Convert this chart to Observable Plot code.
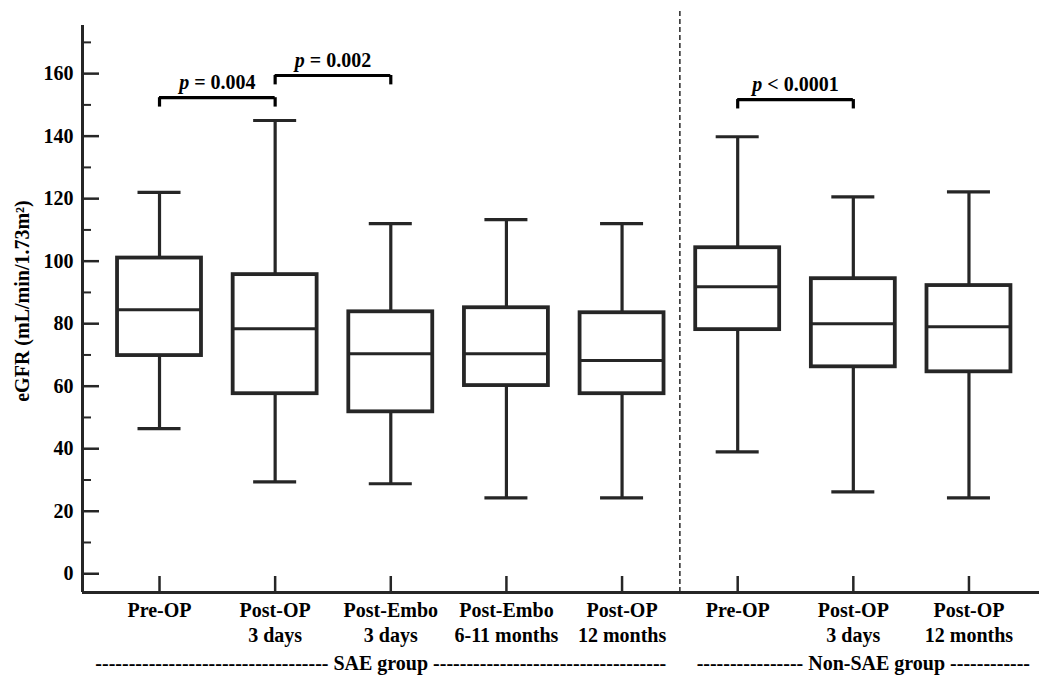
<!DOCTYPE html>
<html>
<head>
<meta charset="utf-8">
<script src="https://cdn.jsdelivr.net/npm/d3@7"></script>
<script src="https://cdn.jsdelivr.net/npm/@observablehq/plot@0.6"></script>
<style>
  html, body { margin: 0; padding: 0; background: #fff; }
</style>
</head>
<body>
<div id="chart"></div>
<script>
// ---- data ----
const categories = ["Pre-OP", "Post-OP\n3 days", "Post-Embo\n3 days", "Post-Embo\n6-11 months", "Post-OP\n12 months",
                    "Pre-OP", "Post-OP\n3 days", "Post-OP\n12 months"];
const groupOf   = ["SAE", "SAE", "SAE", "SAE", "SAE", "Non-SAE", "Non-SAE", "Non-SAE"];
const mins      = [46.4, 29.4, 28.8, 24.3, 24.3, 39.0, 26.2, 24.3];
const q1s       = [69.8, 57.6, 51.8, 60.2, 57.6, 78.1, 66.2, 64.6];
const medians   = [84.5, 78.4, 70.4, 70.4, 68.2, 91.8, 80.0, 79.0];
const q3s       = [101.0, 95.7, 83.8, 85.1, 83.5, 104.3, 94.4, 92.2];
const maxs      = [122.0, 145.0, 112.0, 113.3, 112.0, 139.8, 120.6, 122.2];

const bracketFrom   = [1, 2, 6];
const bracketTo     = [2, 3, 7];
const bracketLevel  = [152.3, 159.4, 151.7];
const bracketLabels = ["p = 0.004", "p = 0.002", "p < 0.0001"];

const yMajorTicks = [0, 20, 40, 60, 80, 100, 120, 140, 160];
const yMinorTicks = [10, 30, 50, 70, 90, 110, 130, 150, 170];
const yLabel = "eGFR (mL/min/1.73m²)";

const groupNames = ["SAE group", "Non-SAE group"];
const groupKeys  = ["SAE", "Non-SAE"];

// ---- derived tables ----
const boxes = categories.map((c, k) => ({
  i: k + 1, cat: c, group: groupOf[k],
  min: mins[k], q1: q1s[k], med: medians[k], q3: q3s[k], max: maxs[k]
}));
const brackets = bracketFrom.map((f, k) => ({from: f, to: bracketTo[k], level: bracketLevel[k], label: bracketLabels[k]}));
const positions = boxes.map(d => d.i);

const W = 1039, H = 675;
const mL = 82, mR = 0, mT = 25, mB = 83;
const plotW = W - mL - mR, plotH = H - mT - mB;
const xDomain = [0.334, 8.61];
const yDomain = [-6, 175.4];
const ink = "#262626";
const font = "'Liberation Serif', 'Times New Roman', Times, serif";

const halfBox = 0.363, halfCap = 0.186;

// separator between the two groups
const lastSAE = d3.max(boxes.filter(d => d.group === "SAE"), d => d.i);
const firstNon = d3.min(boxes.filter(d => d.group === "Non-SAE"), d => d.i);
const sepX = (lastSAE + firstNon) / 2;

const groupInfo = groupKeys.map((g, k) => {
  const members = boxes.filter(d => d.group === g);
  return {name: groupNames[k], center: d3.mean(members, d => d.i)};
});
const dashes = [[35, 35], [16, 12]];
const groupDx = [-10, 10];

const chart = Plot.plot({
  width: W, height: H,
  marginLeft: mL, marginRight: mR, marginTop: mT, marginBottom: mB,
  x: {type: "linear", domain: xDomain, axis: null},
  y: {type: "linear", domain: yDomain, axis: null},
  style: {fontFamily: font, fontSize: "20px", fontWeight: "bold", color: "#000", background: "#fff", overflow: "visible"},
  marks: [
    // axis lines
    Plot.ruleX([xDomain[0]], {stroke: ink, strokeWidth: 3}),
    Plot.ruleY([yDomain[0]], {stroke: ink, strokeWidth: 3}),
    // y ticks (inward)
    Plot.tickY(yMajorTicks, {y: d => d, stroke: ink, strokeWidth: 2.5, insetRight: plotW - 17}),
    Plot.tickY(yMinorTicks, {y: d => d, stroke: ink, strokeWidth: 2, insetRight: plotW - 9}),
    // x ticks (inward)
    Plot.tickX(positions, {x: d => d, stroke: ink, strokeWidth: 2.5, insetTop: plotH - 16}),
    // axis labels
    Plot.axisY(yMajorTicks, {tickSize: 0, tickPadding: 9, label: null, fontWeight: "bold", fontSize: 20}),
    Plot.axisX(positions, {tickSize: 0, tickPadding: 7, label: null, lineHeight: 1.25,
      tickFormat: v => categories[v - 1], fontWeight: "bold", fontSize: 20}),
    Plot.text([yLabel], {frameAnchor: "left", textAnchor: "middle", rotate: -90, dx: -60, dy: -8,
      fontSize: 20, fontWeight: "bold", fill: "#000"}),
    // group separator
    Plot.ruleX([sepX], {y1: yDomain[0], y2: 180.8, stroke: ink, strokeWidth: 1.5, strokeDasharray: "5,3"}),
    // whiskers
    Plot.ruleX(boxes, {x: "i", y1: "q3", y2: "max", stroke: ink, strokeWidth: 3.2}),
    Plot.ruleX(boxes, {x: "i", y1: "min", y2: "q1", stroke: ink, strokeWidth: 3.2}),
    // caps
    Plot.ruleY(boxes, {y: "max", x1: d => d.i - halfCap, x2: d => d.i + halfCap, stroke: ink, strokeWidth: 3.2}),
    Plot.ruleY(boxes, {y: "min", x1: d => d.i - halfCap, x2: d => d.i + halfCap, stroke: ink, strokeWidth: 3.2}),
    // boxes
    Plot.rect(boxes, {x1: d => d.i - halfBox, x2: d => d.i + halfBox, y1: "q1", y2: "q3", fill: "#fff", stroke: ink, strokeWidth: 3.8}),
    // medians
    Plot.ruleY(boxes, {y: "med", x1: d => d.i - halfBox, x2: d => d.i + halfBox, stroke: ink, strokeWidth: 3}),
    // significance brackets
    Plot.ruleY(brackets, {y: "level", x1: "from", x2: "to", stroke: "#000", strokeWidth: 3.2}),
    Plot.ruleX(brackets, {x: "from", y1: "level", y2: d => d.level - 3, stroke: "#000", strokeWidth: 3.2}),
    Plot.ruleX(brackets, {x: "to", y1: "level", y2: d => d.level - 3, stroke: "#000", strokeWidth: 3.2}),
    Plot.text(brackets, {x: d => (d.from + d.to) / 2, y: "level", text: "label", lineAnchor: "bottom", dy: -9,
      fontSize: 20, fontWeight: "bold", fill: "#000"}),
    // group labels
    ...groupInfo.map((g, k) => Plot.text([g], {
      x: "center", frameAnchor: "bottom", lineAnchor: "bottom", dy: 77, dx: groupDx[k],
      text: d => "-".repeat(dashes[k][0]) + " " + d.name + " " + "-".repeat(dashes[k][1]),
      fontSize: 20, fontWeight: "bold", fill: "#000"
    }))
  ]
});

// italic "p" in the significance labels
chart.querySelectorAll("text").forEach(t => {
  const s = t.textContent;
  if (bracketLabels.includes(s)) {
    t.textContent = "";
    const ns = "http://www.w3.org/2000/svg";
    const a = document.createElementNS(ns, "tspan");
    a.setAttribute("font-style", "italic");
    a.textContent = s.slice(0, 1);
    const b = document.createElementNS(ns, "tspan");
    b.textContent = s.slice(1);
    t.appendChild(a); t.appendChild(b);
  }
});

document.getElementById("chart").appendChild(chart);
</script>
</body>
</html>
